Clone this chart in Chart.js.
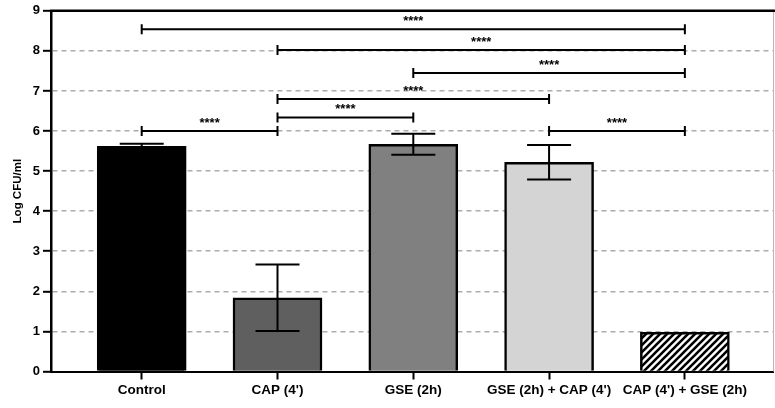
<!DOCTYPE html>
<html>
<head>
<meta charset="utf-8">
<script src="https://cdn.jsdelivr.net/npm/chart.js@4"></script>
<style>
  html, body { margin: 0; padding: 0; background: #fff; }
  #wrap { width: 775px; height: 408px; }
</style>
</head>
<body>
<div id="wrap"><canvas id="cfuChart" width="775" height="408"></canvas></div>
<script>
// groups on the x axis
const groups = ["Control", "CAP (4')", "GSE (2h)", "GSE (2h) + CAP (4')", "CAP (4') + GSE (2h)"];
// mean Log CFU/ml and error (SD)
const means = [5.62, 1.84, 5.67, 5.22, 0.98];
const errors = [0.06, 0.83, 0.26, 0.43, 0];
// y axis ticks
const yTicks = [0, 1, 2, 3, 4, 5, 6, 7, 8, 9];

// significance brackets (from group, to group, height in Log CFU/ml)
const bracketFrom = [0, 1, 2, 1, 1, 0, 3];
const bracketTo = [4, 4, 4, 3, 2, 1, 4];
const bracketY = [8.54, 8.02, 7.45, 6.80, 6.34, 6.0, 6.0];
const bracketText = ["****", "****", "****", "****", "****", "****", "****"];

// hatch pattern for last bar
function makeHatch() {
  const s = 7;
  const c = document.createElement("canvas");
  c.width = s;
  c.height = s;
  const g = c.getContext("2d");
  g.fillStyle = "#fff";
  g.fillRect(0, 0, s, s);
  g.strokeStyle = "#000";
  g.lineWidth = 2.6;
  g.beginPath();
  g.moveTo(0, s); g.lineTo(s, 0);
  g.moveTo(-1, 1); g.lineTo(1, -1);
  g.moveTo(s - 1, s + 1); g.lineTo(s + 1, s - 1);
  g.stroke();
  return g.createPattern(c, "repeat");
}

const ctx = document.getElementById("cfuChart").getContext("2d");
const barColors = ["#000000", "#5f5f5f", "#808080", "#d4d4d4", makeHatch()];

// error bars + brackets + top/right frame
const extras = {
  id: "extras",
  afterDatasetsDraw(chart) {
    const c = chart.ctx;
    const xs = chart.scales.x;
    const ys = chart.scales.y;
    const area = chart.chartArea;
    c.save();

    // frame: top black line, right thin gray line
    c.strokeStyle = "#b8b8b8";
    c.lineWidth = 1;
    c.beginPath();
    c.moveTo(area.right + 0.5, area.top);
    c.lineTo(area.right + 0.5, area.bottom);
    c.stroke();
    c.strokeStyle = "#000";
    c.lineWidth = 2.5;
    c.beginPath();
    c.moveTo(area.left - 1, area.top);
    c.lineTo(775, area.top);
    c.stroke();

    // error bars
    c.lineWidth = 2;
    c.strokeStyle = "#000";
    for (let i = 0; i < means.length; i++) {
      if (!errors[i]) continue;
      const x = xs.getPixelForValue(i);
      const yHi = ys.getPixelForValue(means[i] + errors[i]);
      const yLo = ys.getPixelForValue(means[i] - errors[i]);
      c.beginPath();
      c.moveTo(x, yHi); c.lineTo(x, yLo);
      c.moveTo(x - 22, yHi); c.lineTo(x + 22, yHi);
      c.moveTo(x - 22, yLo); c.lineTo(x + 22, yLo);
      c.stroke();
    }

    // brackets
    c.fillStyle = "#000";
    c.font = "bold 13px 'Liberation Sans', Arial, sans-serif";
    c.textAlign = "center";
    c.textBaseline = "alphabetic";
    for (let i = 0; i < bracketY.length; i++) {
      const x1 = xs.getPixelForValue(bracketFrom[i]);
      const x2 = xs.getPixelForValue(bracketTo[i]);
      const y = ys.getPixelForValue(bracketY[i]);
      c.beginPath();
      c.moveTo(x1, y); c.lineTo(x2, y);
      c.moveTo(x1, y - 5); c.lineTo(x1, y + 5);
      c.moveTo(x2, y - 5); c.lineTo(x2, y + 5);
      c.stroke();
      c.fillText(bracketText[i], (x1 + x2) / 2, y - 4);
    }
    c.restore();
  }
};

new Chart(ctx, {
  type: "bar",
  data: {
    datasets: [{
      data: means.map((m, i) => ({ x: i, y: m })),
      backgroundColor: barColors,
      borderColor: "#000",
      borderWidth: 2.5,
      barThickness: 89
    }]
  },
  options: {
    responsive: false,
    animation: false,
    events: [],
    layout: { padding: { top: 10, right: 2, left: 0, bottom: 0 } },
    plugins: {
      legend: { display: false },
      tooltip: { enabled: false }
    },
    scales: {
      x: {
        type: "linear",
        min: -0.668,
        max: 4.649,
        offset: false,
        afterFit(scale) { scale.height = 36.5; },
        afterBuildTicks(scale) {
          scale.ticks = groups.map((g, i) => ({ value: i }));
        },
        grid: {
          offset: false,
          drawOnChartArea: false,
          drawTicks: true,
          tickLength: 8,
          tickColor: "#000",
          tickWidth: 2
        },
        border: { display: true, color: "#000", width: 2 },
        ticks: {
          padding: 3,
          color: "#000",
          maxRotation: 0,
          autoSkip: false,
          font: { family: "'Liberation Sans', Arial, sans-serif", size: 13.5, weight: "bold" },
          callback: (v) => groups[v]
        }
      },
      y: {
        min: 0,
        max: 9,
        afterFit(scale) { scale.width = 51; },
        afterBuildTicks(scale) {
          scale.ticks = yTicks.map((v) => ({ value: v }));
        },
        grid: {
          color: (c) => (c.tick && (c.tick.value === 0 || c.tick.value === 9)) ? "rgba(0,0,0,0)" : "#ababab",
          lineWidth: 1.6,
          drawTicks: true,
          tickLength: 8,
          tickColor: "#000",
          tickWidth: 2
        },
        border: {
          display: true,
          color: "#000",
          width: 2.5,
          dash: (c) => (c.tick ? [5, 4] : [])
        },
        title: {
          display: true,
          text: "Log CFU/ml",
          color: "#000",
          padding: { top: 11, bottom: 0 },
          font: { family: "'Liberation Sans', Arial, sans-serif", size: 11.5, weight: "bold" }
        },
        ticks: {
          padding: 3,
          color: "#000",
          font: { family: "'Liberation Sans', Arial, sans-serif", size: 13, weight: "bold" }
        }
      }
    }
  },
  plugins: [extras]
});
</script>
</body>
</html>
